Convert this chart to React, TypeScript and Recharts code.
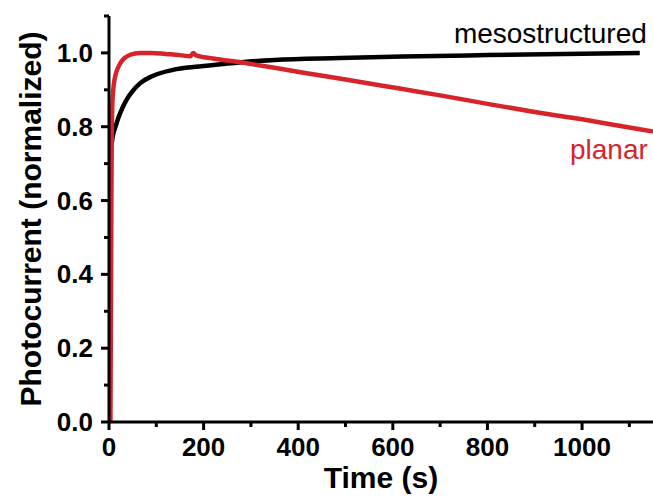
import React from 'react';
import { LineChart, Line, XAxis, YAxis, ReferenceDot } from 'recharts';

const RED = '#d7232a';
const FONT = '"Liberation Sans", Arial, Helvetica, sans-serif';

// Photocurrent transients, time in seconds
const planarTime = [3, 4, 5, 6, 7, 9, 12, 16, 23, 32, 45, 65, 90, 120, 150, 172, 178, 184, 220, 281, 350, 408, 500, 621, 700, 800, 900, 1000, 1100, 1150];
const planarValue = [0, 0.3, 0.6, 0.8, 0.86, 0.9, 0.93, 0.95, 0.97, 0.985, 0.995, 1.0, 1.0, 0.997, 0.994, 0.991, 1.0, 0.993, 0.985, 0.974, 0.96, 0.947, 0.928, 0.902, 0.885, 0.862, 0.84, 0.82, 0.798, 0.787];

const mesoTime = [6, 8, 11, 15, 20, 28, 38, 49, 66, 91, 135, 190, 241, 281, 350, 488, 621, 800, 1000, 1122];
const mesoValue = [0.757, 0.775, 0.79, 0.805, 0.825, 0.85, 0.875, 0.895, 0.918, 0.937, 0.954, 0.963, 0.97, 0.975, 0.981, 0.986, 0.99, 0.994, 0.998, 1.0];

const xTicks = [0, 100, 200, 300, 400, 500, 600, 700, 800, 900, 1000, 1100];
const yTicks = [0, 0.1, 0.2, 0.3, 0.4, 0.5, 0.6, 0.7, 0.8, 0.9, 1.0, 1.1];

const planar = planarTime.map((t, i) => ({ t, v: planarValue[i] }));
const meso = mesoTime.map((t, i) => ({ t, v: mesoValue[i] }));

const XTick = ({ x, y, payload }: any) => {
  const major = payload.value % 200 === 0;
  return (
    <g>
      <line x1={x} x2={x} y1={y} y2={y + (major ? 8 : 5)} stroke="#000" strokeWidth={3} />
      {major && (
        <text x={x} y={y + 34} textAnchor="middle" fontSize={26} fontWeight="bold" fontFamily={FONT} fill="#000">
          {payload.value}
        </text>
      )}
    </g>
  );
};

const YTick = ({ x, y, payload }: any) => {
  const n = Math.round(payload.value * 10);
  const major = n % 2 === 0 && n <= 10;
  return (
    <g>
      <line x1={x} x2={x - (major ? 8 : 5)} y1={y} y2={y} stroke="#000" strokeWidth={3} />
      {major && (
        <text x={x - 16} y={y + 9} textAnchor="end" fontSize={26} fontWeight="bold" fontFamily={FONT} fill="#000">
          {payload.value.toFixed(1)}
        </text>
      )}
    </g>
  );
};

export default function App() {
  return (
    <div style={{ position: 'absolute', left: 0, top: 0, background: '#fff' }}>
      <LineChart width={653} height={496} margin={{ top: 16, right: 0, bottom: 0, left: 0 }}>
        <XAxis
          type="number"
          dataKey="t"
          domain={[0, 1150]}
          ticks={xTicks}
          interval={0}
          allowDataOverflow
          height={74}
          tickSize={0}
          tickMargin={0}
          tick={<XTick />}
          axisLine={{ stroke: '#000', strokeWidth: 3 }}
          label={{ value: 'Time (s)', position: 'insideBottom', offset: 8, fontSize: 30, fontWeight: 'bold', fontFamily: FONT, fill: '#000' }}
        />
        <YAxis
          type="number"
          dataKey="v"
          domain={[0, 1.1]}
          ticks={yTicks}
          interval={0}
          allowDataOverflow
          width={109}
          tickSize={0}
          tickMargin={0}
          tick={<YTick />}
          axisLine={{ stroke: '#000', strokeWidth: 3 }}
          label={{ value: 'Photocurrent (normalized)', angle: -90, position: 'center', dx: -24, fontSize: 30, fontWeight: 'bold', fontFamily: FONT, fill: '#000' }}
        />
        <Line data={meso} dataKey="v" type="monotone" stroke="#000" strokeWidth={4.5} dot={false} isAnimationActive={false} />
        <Line data={planar} dataKey="v" type="monotone" stroke={RED} strokeWidth={4.5} dot={false} isAnimationActive={false} />
        <ReferenceDot
          x={1137}
          y={1.053}
          r={0}
          fill="none"
          stroke="none"
          label={{ value: 'mesostructured', position: 'left', offset: 0, fontSize: 28, fontFamily: FONT, fill: '#000' }}
        />
        <ReferenceDot
          x={1139}
          y={0.74}
          r={0}
          fill="none"
          stroke="none"
          label={{ value: 'planar', position: 'left', offset: 0, fontSize: 28, fontFamily: FONT, fill: RED }}
        />
      </LineChart>
    </div>
  );
}
